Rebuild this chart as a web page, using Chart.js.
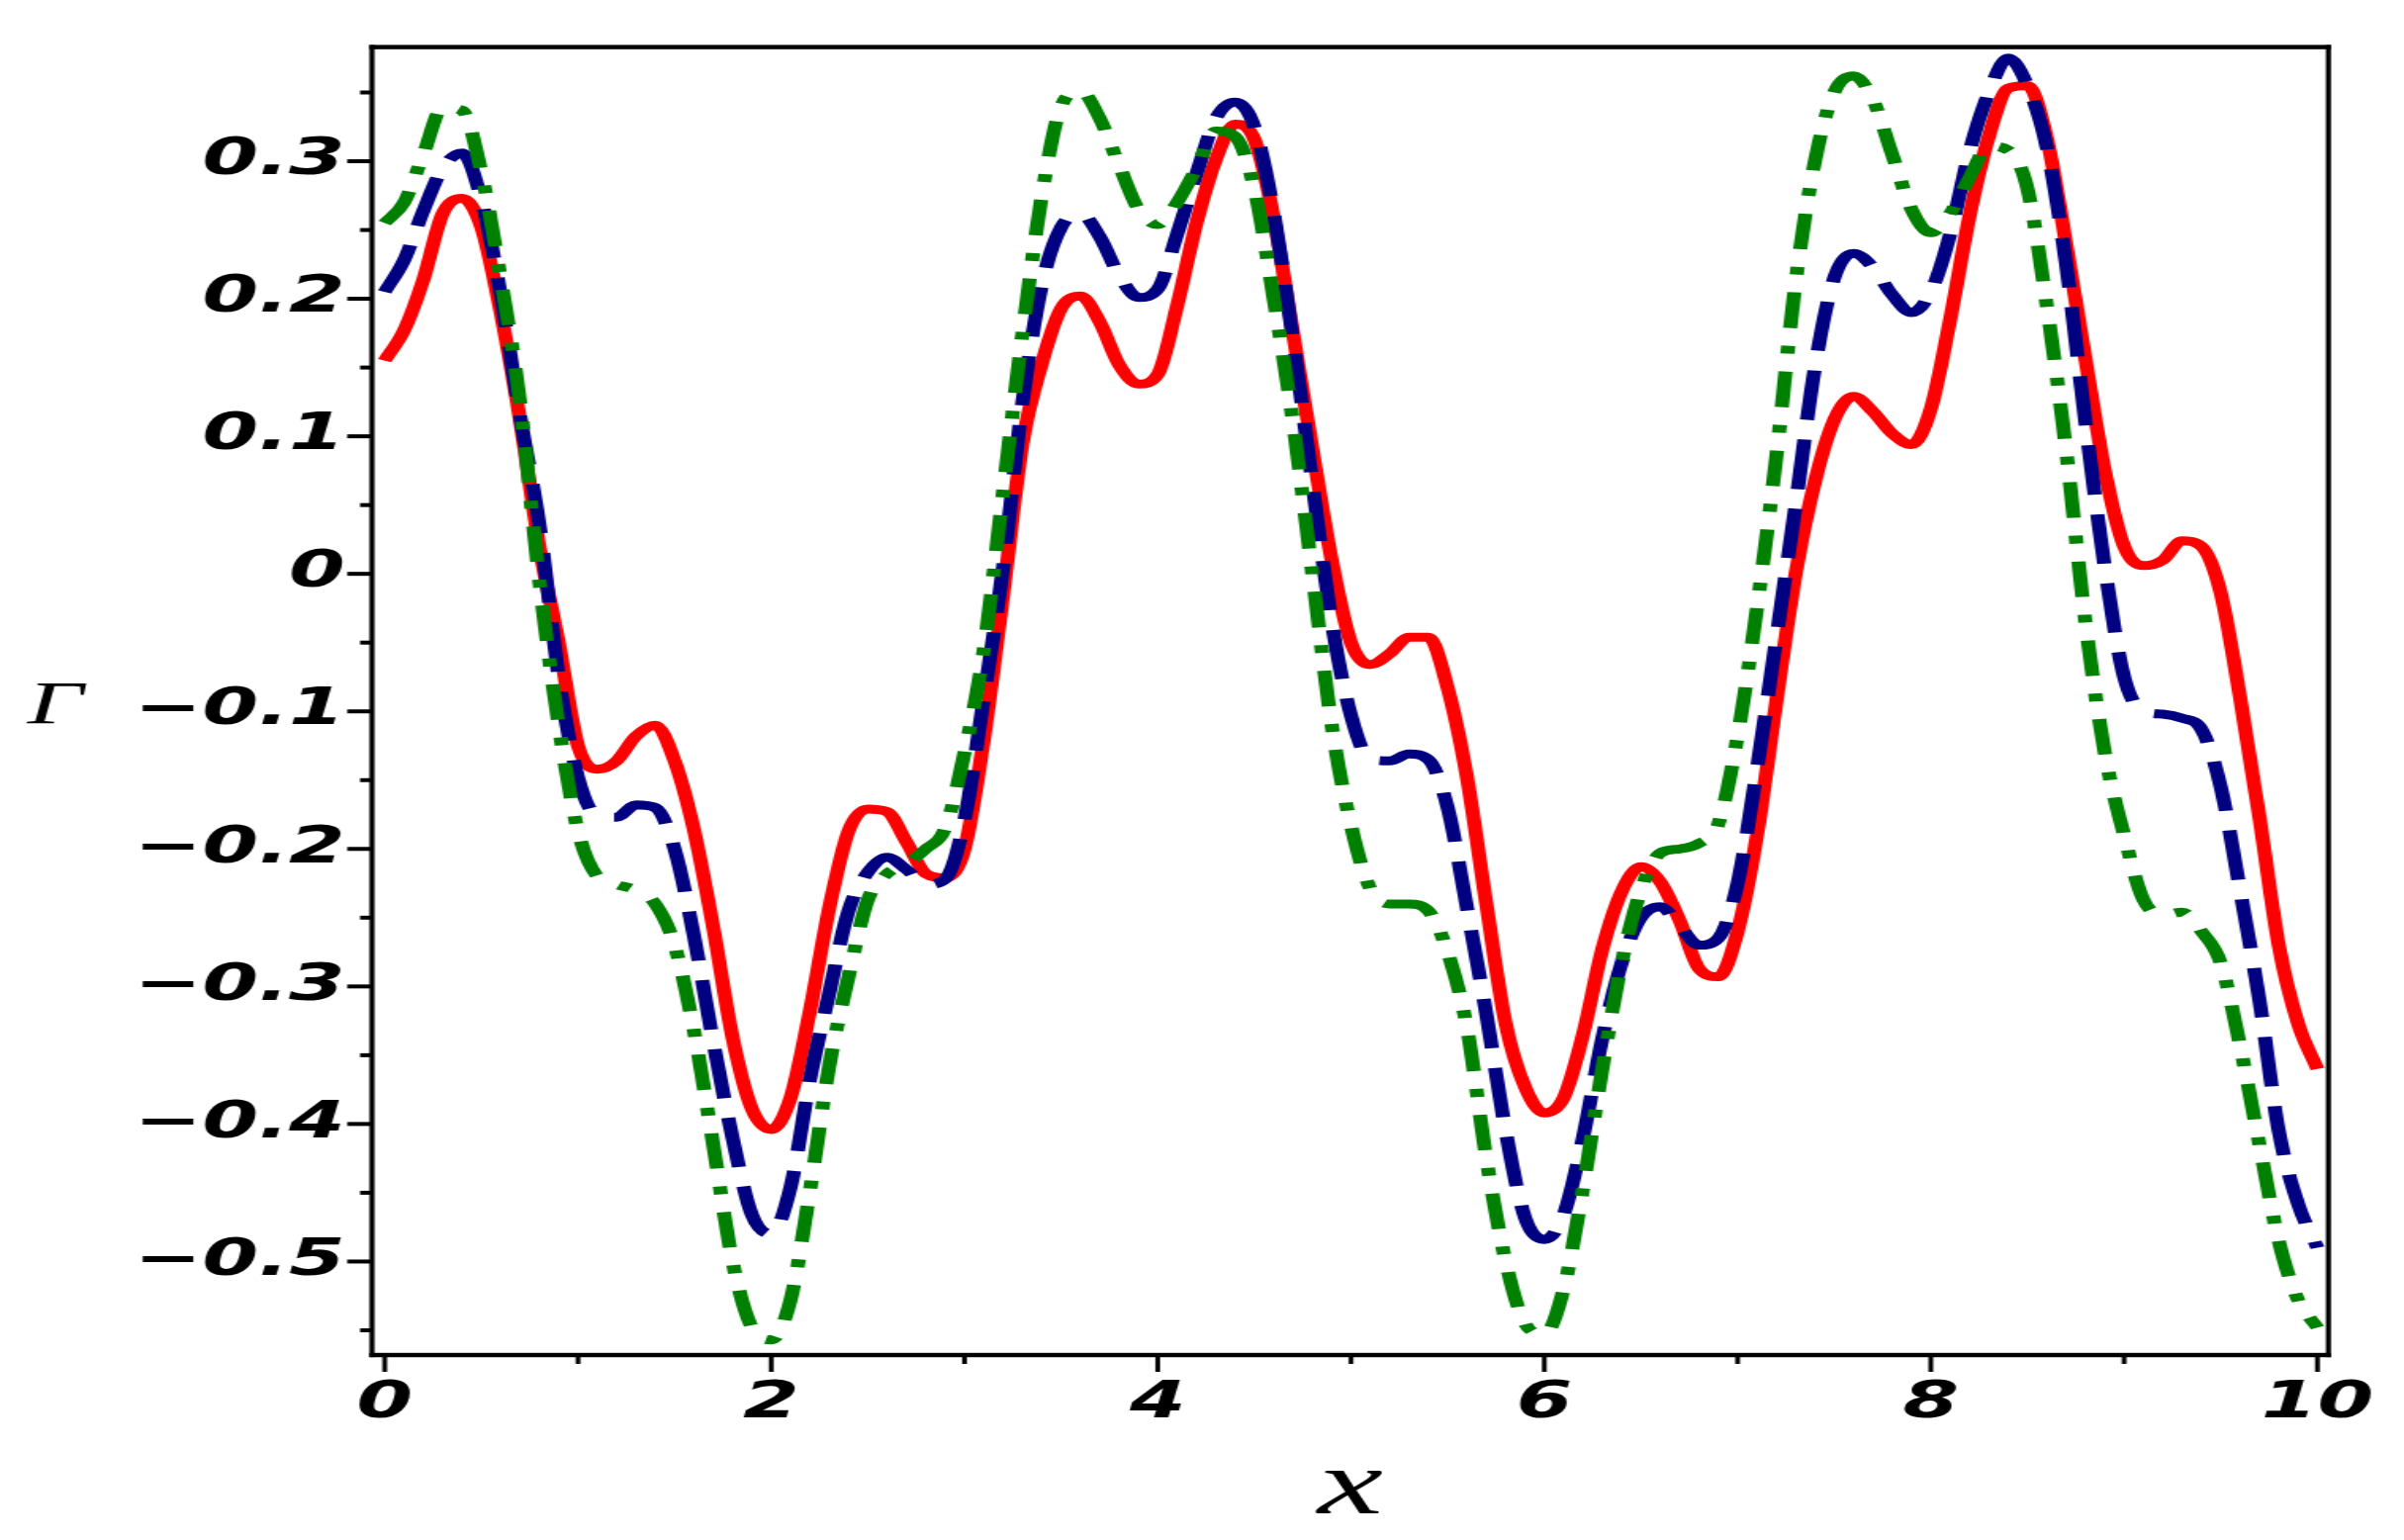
<!DOCTYPE html>
<html>
<head>
<meta charset="utf-8">
<script src="https://cdn.jsdelivr.net/npm/chart.js@4.4.1/dist/chart.umd.min.js"></script>
<style>
html, body { margin: 0; padding: 0; background: #fff; overflow: hidden; }
#wrap { width: 1519px; height: 1557px; transform: scaleX(1.59974); transform-origin: 0 0; }
canvas { display: block; }
</style>
</head>
<body>
<div id="wrap"><canvas id="c" width="1519" height="1557"></canvas></div>
<script>
const xValues = [0,0.1,0.2,0.3,0.4,0.5,0.6,0.7,0.8,0.9,
  1,1.1,1.2,1.3,1.4,1.5,1.6,1.7,1.8,1.9,
  2,2.1,2.2,2.3,2.4,2.5,2.6,2.7,2.8,2.9,
  3,3.1,3.2,3.3,3.4,3.5,3.6,3.7,3.8,3.9,
  4,4.1,4.2,4.3,4.4,4.5,4.6,4.7,4.8,4.9,
  5,5.1,5.2,5.3,5.4,5.5,5.6,5.7,5.8,5.9,
  6,6.1,6.2,6.3,6.4,6.5,6.6,6.7,6.8,6.9,
  7,7.1,7.2,7.3,7.4,7.5,7.6,7.7,7.8,7.9,
  8,8.1,8.2,8.3,8.4,8.5,8.6,8.7,8.8,8.9,
  9,9.1,9.2,9.3,9.4,9.5,9.6,9.7,9.8,9.9,
  10];

const gammaRed = [0.155,0.177,0.214,0.262,0.273,0.252,0.19,0.112,0.02,-0.05,
  -0.125,-0.142,-0.136,-0.118,-0.11,-0.136,-0.186,-0.257,-0.337,-0.389,
  -0.404,-0.381,-0.318,-0.243,-0.187,-0.171,-0.173,-0.195,-0.218,-0.221,
  -0.2,-0.12,-0.015,0.095,0.153,0.193,0.202,0.183,0.152,0.138,
  0.145,0.195,0.255,0.301,0.327,0.316,0.259,0.175,0.091,0.01,
  -0.05,-0.066,-0.058,-0.046,-0.046,-0.083,-0.148,-0.24,-0.327,-0.373,
  -0.392,-0.381,-0.335,-0.273,-0.231,-0.213,-0.224,-0.252,-0.287,-0.293,
  -0.26,-0.19,-0.093,0.0,0.067,0.112,0.129,0.118,0.102,0.094,
  0.12,0.185,0.26,0.318,0.353,0.355,0.317,0.24,0.156,0.075,
  0.02,0.006,0.01,0.024,0.02,-0.014,-0.09,-0.177,-0.27,-0.327,
  -0.36];

const gammaNavy = [0.205,0.228,0.264,0.295,0.306,0.272,0.203,0.115,0.036,-0.075,
  -0.148,-0.176,-0.177,-0.168,-0.17,-0.2,-0.263,-0.34,-0.41,-0.466,
  -0.48,-0.446,-0.368,-0.305,-0.245,-0.217,-0.206,-0.215,-0.226,-0.222,
  -0.179,-0.09,0.005,0.125,0.21,0.252,0.262,0.245,0.217,0.201,
  0.207,0.247,0.291,0.331,0.343,0.325,0.263,0.17,0.066,-0.035,
  -0.103,-0.135,-0.136,-0.131,-0.135,-0.17,-0.243,-0.32,-0.405,-0.468,
  -0.484,-0.466,-0.41,-0.338,-0.283,-0.25,-0.242,-0.256,-0.27,-0.265,
  -0.225,-0.142,-0.047,0.05,0.15,0.215,0.233,0.223,0.203,0.19,
  0.205,0.247,0.307,0.35,0.375,0.355,0.31,0.225,0.11,0.005,
  -0.075,-0.1,-0.102,-0.105,-0.113,-0.155,-0.23,-0.31,-0.405,-0.458,
  -0.49];

const gammaGreen = [0.255,0.27,0.305,0.339,0.337,0.292,0.215,0.125,-0.005,-0.11,
  -0.187,-0.22,-0.226,-0.23,-0.24,-0.27,-0.332,-0.415,-0.5,-0.548,
  -0.557,-0.528,-0.449,-0.358,-0.293,-0.237,-0.218,-0.211,-0.2,-0.185,
  -0.13,-0.055,0.06,0.175,0.275,0.34,0.351,0.331,0.297,0.265,
  0.254,0.27,0.295,0.322,0.318,0.28,0.2,0.11,0.0,-0.11,
  -0.183,-0.229,-0.24,-0.24,-0.245,-0.275,-0.33,-0.425,-0.5,-0.545,
  -0.553,-0.52,-0.447,-0.36,-0.283,-0.23,-0.203,-0.2,-0.196,-0.182,
  -0.118,-0.025,0.085,0.212,0.3,0.35,0.362,0.345,0.305,0.265,
  0.248,0.262,0.288,0.311,0.308,0.28,0.195,0.09,-0.035,-0.13,
  -0.19,-0.237,-0.248,-0.246,-0.26,-0.283,-0.343,-0.415,-0.485,-0.528,
  -0.548];

const xTickValues = [0, 2, 4, 6, 8, 10];
const xTickLabels = ['0', '2', '4', '6', '8', '10'];
const xMinorTicks = [1, 3, 5, 7, 9];
const yTickValues = [-0.5, -0.4, -0.3, -0.2, -0.1, 0, 0.1, 0.2, 0.3];
const yTickLabels = ['\u22120.5', '\u22120.4', '\u22120.3', '\u22120.2', '\u22120.1', '0', '0.1', '0.2', '0.3'];
const yMinorTicks = [-0.55, -0.45, -0.35, -0.25, -0.15, -0.05, 0.05, 0.15, 0.25, 0.35];
const xAxisTitle = 'x';
const yAxisTitle = '\u0393';

const tickFont = { family: '"DejaVu Sans"', size: 51, style: 'italic', weight: 'bold' };

const decor = {
  id: 'decor',
  afterDraw(chart) {
    const ctx = chart.ctx;
    const a = chart.chartArea;
    const xs = chart.scales.x, ys = chart.scales.y;
    ctx.save();
    ctx.fillStyle = '#000';
    // frame
    ctx.fillRect(a.left - 1.6, a.top - 2.2, 3.2, a.bottom - a.top + 4.4);
    ctx.fillRect(a.right - 1.6, a.top - 2.2, 3.2, a.bottom - a.top + 4.4);
    ctx.fillRect(a.left - 1.6, a.top - 2.2, a.right - a.left + 3.2, 4.4);
    ctx.fillRect(a.left - 1.6, a.bottom - 2.2, a.right - a.left + 3.2, 4.4);
    // y ticks
    yTickValues.forEach(v => { const p = ys.getPixelForValue(v); ctx.fillRect(a.left - 15.6, p - 2, 15.6, 4); });
    yMinorTicks.forEach(v => { const p = ys.getPixelForValue(v); ctx.fillRect(a.left - 7.5, p - 2, 7.5, 4); });
    // x ticks
    xTickValues.forEach(v => { const p = xs.getPixelForValue(v); ctx.fillRect(p - 1.5, a.bottom, 3, 17); });
    xMinorTicks.forEach(v => { const p = xs.getPixelForValue(v); ctx.fillRect(p - 1.5, a.bottom, 3, 9); });
    // axis titles
    ctx.textAlign = 'center';
    ctx.textBaseline = 'alphabetic';
    ctx.font = 'italic 62px "Liberation Serif"';
    ctx.fillText(yAxisTitle, 35, (a.top + a.bottom) / 2 + 22);
    ctx.font = 'italic 93px "Liberation Serif"';
    ctx.fillText(xAxisTitle, (a.left + a.right) / 2, 1530);
    ctx.restore();
  }
};

const mk = (ys) => xValues.map((x, i) => ({ x: x, y: ys[i] }));

new Chart(document.getElementById('c'), {
  type: 'line',
  data: {
    datasets: [
      { label: 'green', data: mk(gammaGreen), borderColor: '#008000', borderWidth: 9, borderDash: [36, 18, 8, 18], pointRadius: 0, fill: false },
      { label: 'navy', data: mk(gammaNavy), borderColor: '#000080', borderWidth: 9, borderDash: [50, 20], pointRadius: 0, fill: false },
      { label: 'red', data: mk(gammaRed), borderColor: '#ff0000', borderWidth: 9, pointRadius: 0, fill: false }
    ]
  },
  options: {
    responsive: false,
    animation: false,
    devicePixelRatio: 1,
    layout: { padding: { top: 43, right: 47, left: 0, bottom: 0 } },
    elements: { line: { cubicInterpolationMode: 'monotone' } },
    plugins: { legend: { display: false }, tooltip: { enabled: false }, title: { display: false } },
    scales: {
      x: {
        type: 'linear', min: -0.066, max: 10.057,
        afterBuildTicks: s => { s.ticks = xTickValues.map(v => ({ value: v })); },
        afterFit: s => { s.height = 187; },
        grid: { display: false, drawTicks: false },
        border: { display: false },
        ticks: {
          autoSkip: false, maxRotation: 0, color: '#000', font: tickFont, padding: 19,
          callback: (v) => xTickLabels[xTickValues.indexOf(v)]
        }
      },
      y: {
        type: 'linear', min: -0.568, max: 0.383,
        afterBuildTicks: s => { s.ticks = yTickValues.map(v => ({ value: v })); },
        afterFit: s => { s.width = 235; },
        grid: { display: false, drawTicks: false },
        border: { display: false },
        ticks: {
          autoSkip: false, color: '#000', font: tickFont, padding: 17,
          callback: (v) => yTickLabels[yTickValues.indexOf(v)]
        }
      }
    }
  },
  plugins: [decor]
});
</script>
</body>
</html>
